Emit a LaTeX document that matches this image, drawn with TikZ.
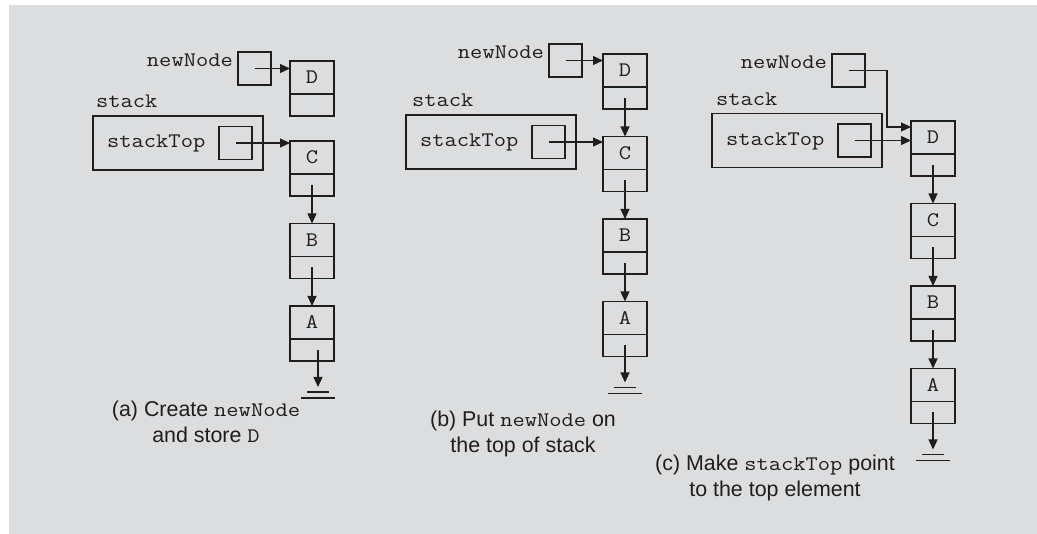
\documentclass[tikz,border=0pt]{standalone}
\usepackage{fontspec}
\setmainfont{Liberation Sans}
\setmonofont{Latin Modern Mono}[FakeStretch=1.15]
\usetikzlibrary{arrows.meta, positioning}
\definecolor{bggray}{RGB}{220,221,223}
\definecolor{ink}{RGB}{30,30,30}
\newcommand{\mono}{\fontsize{20.7}{24}\selectfont\ttfamily}
\newcommand{\cd}[1]{{\mono #1}}

\begin{document}
\begin{tikzpicture}[x=1pt, y=-1pt, color=ink, node distance=27.5pt,
    >={Triangle[length=10pt,width=9pt]},
    cell/.style={draw, line width=1.3pt, outer sep=0pt, inner sep=0pt, minimum width=44pt, minimum height=33pt, font=\mono},
    nxt/.style={draw, line width=1.3pt, outer sep=0pt, inner sep=0pt, minimum width=44pt, minimum height=22pt},
    ptrbox/.style={draw, line width=1.3pt, outer sep=0pt, inner sep=0pt, minimum size=33pt},
    stackbox/.style={draw, line width=1.3pt, outer sep=0pt, inner sep=0pt, minimum width=170pt, minimum height=54pt},
    lbl/.style={font=\mono, inner sep=0pt},
    captxt/.style={font=\fontsize{21.4}{26}\selectfont, align=center, inner sep=0pt},
    ptr/.style={->, line width=1.2pt},
    gnd/.style={line width=1.3pt}]
    % background
    \fill[white] (0,0) rectangle (1037,534);
    \fill[bggray] (9,5) rectangle (1037,534);

    % (a) create newNode and store D
    \node[ptrbox] (aNew) at (254.5,68.5) {};
    \node[lbl, anchor=base east] (aNewL) at ([xshift=-5pt,yshift=2pt]aNew.west) {newNode};
    \node[cell, anchor=north west] (aD) at (290,61) {D};
    \node[nxt, below=0pt of aD] (aD-p) {};
    \node[stackbox] (aS) at (178,143) {};
    \node[lbl, anchor=base west] (aSL) at ([xshift=3pt,yshift=8pt]aS.north west) {stack};
    \node[lbl, anchor=base west] (aTopL) at ([xshift=14pt,yshift=-5pt]aS.west) {stackTop};
    \node[ptrbox, left=11pt of aS.east] (aTop) {};
    \node[cell, anchor=north west] (aC) at (290,141) {C};
    \node[nxt, below=0pt of aC] (aC-p) {};
    \foreach \up/\lo in {C/B, B/A} {
        \node[cell, below=of a\up-p] (a\lo) {\lo};
        \node[nxt, below=0pt of a\lo] (a\lo-p) {};
        \draw[ptr] (a\up-p.center) -- (a\lo);
    }
    \coordinate[below=31pt of aA-p, xshift=6pt] (aG);
    \draw[ptr] (aNew.center) -- (aNew.center -| aD.west);
    \draw[ptr] (aTop.center) -- (aTop.center -| aC.west);
    \draw[ptr] (aG |- aA-p.center) -- ([yshift=5pt]aG);
    \draw[gnd] ([xshift=-11pt]aG) -- ([xshift=11pt]aG) ([xshift=-17pt,yshift=-6pt]aG) -- ([xshift=17pt,yshift=-6pt]aG);
    \node[captxt] (capA) at (206,422) {(a) Create \cd{newNode}\\and store \cd{D}};

    % (b) put newNode on the top of stack
    \node[ptrbox] (bNew) at (565.5,60.5) {};
    \node[lbl, anchor=base east] (bNewL) at ([xshift=-5pt,yshift=2pt]bNew.west) {newNode};
    \node[cell, anchor=north west] (bD) at (603,54) {D};
    \node[nxt, below=0pt of bD] (bD-p) {};
    \node[stackbox] (bS) at (491,142) {};
    \node[lbl, anchor=base west] (bSL) at ([xshift=6pt,yshift=8pt]bS.north west) {stack};
    \node[lbl, anchor=base west] (bTopL) at ([xshift=14pt,yshift=-5pt]bS.west) {stackTop};
    \node[ptrbox, left=11pt of bS.east] (bTop) {};
    \foreach \up/\lo in {D/C, C/B, B/A} {
        \node[cell, below=of b\up-p] (b\lo) {\lo};
        \node[nxt, below=0pt of b\lo] (b\lo-p) {};
        \draw[ptr] (b\up-p.center) -- (b\lo);
    }
    \coordinate[below=31pt of bA-p] (bG);
    \draw[ptr] (bNew.center) -- (bNew.center -| bD.west);
    \draw[ptr] (bTop.center) -- (bTop.center -| bC.west);
    \draw[ptr] (bG |- bA-p.center) -- ([yshift=5pt]bG);
    \draw[gnd] ([xshift=-11pt]bG) -- ([xshift=11pt]bG) ([xshift=-17pt,yshift=-6pt]bG) -- ([xshift=17pt,yshift=-6pt]bG);
    \node[captxt] (capB) at (523,433.5) {(b) Put \cd{newNode} on\\the top of stack};

    % (c) make stackTop point to the top element
    \node[ptrbox] (cNew) at (848.5,70.5) {};
    \node[lbl, anchor=base east] (cNewL) at ([xshift=-5pt,yshift=2pt]cNew.west) {newNode};
    \node[cell, anchor=north west] (cD) at (911,121) {D};
    \node[nxt, below=0pt of cD] (cD-p) {};
    \node[stackbox] (cS) at (797,140.5) {};
    \node[lbl, anchor=base west] (cSL) at ([xshift=4pt,yshift=8pt]cS.north west) {stack};
    \node[lbl, anchor=base west] (cTopL) at ([xshift=14pt,yshift=-5pt]cS.west) {stackTop};
    \node[ptrbox, left=11pt of cS.east] (cTop) {};
    \foreach \up/\lo in {D/C, C/B, B/A} {
        \node[cell, below=of c\up-p] (c\lo) {\lo};
        \node[nxt, below=0pt of c\lo] (c\lo-p) {};
        \draw[ptr] (c\up-p.center) -- (c\lo);
    }
    \coordinate[below=31pt of cA-p] (cG);
    \draw[ptr] (cNew.center) -| ([xshift=-24pt,yshift=-6pt]cD.north west) -- ([yshift=-6pt]cD.north west);
    \draw[ptr] (cTop.center) -- (cTop.center -| cD.west);
    \draw[ptr] (cG |- cA-p.center) -- ([yshift=5pt]cG);
    \draw[gnd] ([xshift=-11pt]cG) -- ([xshift=11pt]cG) ([xshift=-17pt,yshift=-6pt]cG) -- ([xshift=17pt,yshift=-6pt]cG);
    \node[captxt] (capC) at (775,477.5) {(c) Make \cd{stackTop} point\\to the top element};
\end{tikzpicture}
\end{document}
